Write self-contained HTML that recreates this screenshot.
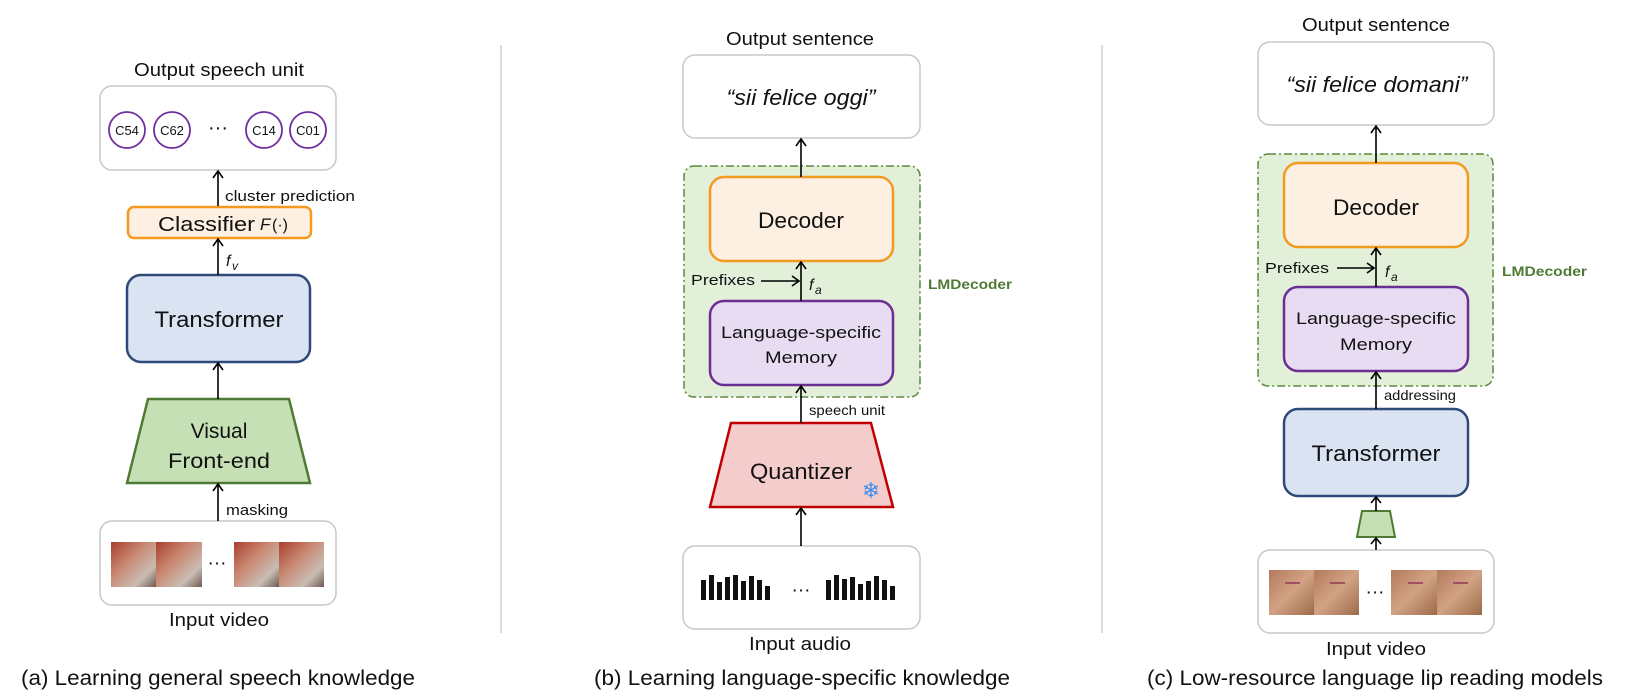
<!DOCTYPE html>
<html><head><meta charset="utf-8"><style>
html,body{margin:0;padding:0;background:#fff;}
svg{display:block;}
text{font-family:"Liberation Sans",sans-serif;fill:#111;}
</style></head><body>
<svg width="1631" height="698" viewBox="0 0 1631 698" xmlns="http://www.w3.org/2000/svg">
<defs>
<linearGradient id="fa" x1="0" y1="0" x2="1" y2="1">
<stop offset="0" stop-color="#a8402e"/><stop offset="0.4" stop-color="#c98872"/><stop offset="0.75" stop-color="#c9bdb3"/><stop offset="1" stop-color="#6e5a50"/></linearGradient>
<linearGradient id="fc" x1="0" y1="0" x2="1" y2="1">
<stop offset="0" stop-color="#b47a5c"/><stop offset="0.5" stop-color="#d2a285"/><stop offset="1" stop-color="#9a6a48"/></linearGradient>
</defs>
<g stroke="#d0d0d0" stroke-width="1.5"><line x1="501" y1="45" x2="501" y2="633"/><line x1="1102" y1="45" x2="1102" y2="633"/></g>

<!-- Panel a -->
<text x="219" y="76" font-size="18" text-anchor="middle" textLength="170" lengthAdjust="spacingAndGlyphs">Output speech unit</text>
<rect x="100" y="86" width="236" height="84" rx="12" fill="#fff" stroke="#c8c8c8" stroke-width="1.5"/>
<g fill="#fff" stroke="#7030a0" stroke-width="1.8">
<circle cx="127" cy="130" r="18"/><circle cx="172" cy="130" r="18"/><circle cx="264" cy="130" r="18"/><circle cx="308" cy="130" r="18"/></g>
<g font-size="13" text-anchor="middle"><text x="127" y="135">C54</text><text x="172" y="135">C62</text><text x="264" y="135">C14</text><text x="308" y="135">C01</text></g>
<text x="218" y="134" font-size="20" text-anchor="middle">···</text>
<rect x="128" y="207" width="183" height="31" rx="6" fill="#fdf0e3" stroke="#f39a21" stroke-width="2.5"/>
<text x="158" y="231" font-size="20" textLength="97" lengthAdjust="spacingAndGlyphs">Classifier</text>
<text x="260" y="230" font-size="17" font-family="Liberation Serif" font-style="italic">F</text><text x="272" y="230" font-size="16" font-family="Liberation Serif">(·)</text>
<text x="225" y="201" font-size="14.5" textLength="130" lengthAdjust="spacingAndGlyphs">cluster prediction</text>
<text x="226" y="266" font-size="16" font-family="Liberation Serif" font-style="italic">f</text><text x="232" y="270" font-size="12" font-family="Liberation Serif" font-style="italic">v</text>
<rect x="127" y="275" width="183" height="87" rx="14" fill="#dae3f2" stroke="#2f4a7a" stroke-width="2.5"/>
<text x="219" y="327" font-size="22" text-anchor="middle" textLength="129" lengthAdjust="spacingAndGlyphs">Transformer</text>
<polygon points="148,399 289,399 310,483 127,483" fill="#c5e0b4" stroke="#4f7a35" stroke-width="2.5"/>
<text x="219" y="438" font-size="21" text-anchor="middle">Visual</text>
<text x="219" y="468" font-size="21" text-anchor="middle" textLength="102" lengthAdjust="spacingAndGlyphs">Front-end</text>
<text x="226" y="515" font-size="14.5" textLength="62" lengthAdjust="spacingAndGlyphs">masking</text>
<rect x="100" y="521" width="236" height="84" rx="12" fill="#fff" stroke="#c8c8c8" stroke-width="1.5"/>
<rect x="111" y="542" width="45" height="45" fill="url(#fa)"/><rect x="156" y="542" width="46" height="45" fill="url(#fa)"/>
<rect x="234" y="542" width="45" height="45" fill="url(#fa)"/><rect x="279" y="542" width="45" height="45" fill="url(#fa)"/>
<text x="217" y="569" font-size="19" text-anchor="middle">···</text>
<text x="219" y="626" font-size="18" text-anchor="middle" textLength="100" lengthAdjust="spacingAndGlyphs">Input video</text>
<text x="21" y="685" font-size="21" textLength="394" lengthAdjust="spacingAndGlyphs">(a) Learning general speech knowledge</text>
<g stroke="#000" stroke-width="1.6" fill="none">
<line x1="218" y1="206" x2="218" y2="171"/><polyline points="213,178 218,171 223,178"/>
<line x1="218" y1="275" x2="218" y2="239"/><polyline points="213,246 218,239 223,246"/>
<line x1="218" y1="399" x2="218" y2="363"/><polyline points="213,370 218,363 223,370"/>
<line x1="218" y1="521" x2="218" y2="484"/><polyline points="213,491 218,484 223,491"/>
</g>

<!-- Panel b -->
<text x="800" y="45" font-size="18" text-anchor="middle" textLength="148" lengthAdjust="spacingAndGlyphs">Output sentence</text>
<rect x="683" y="55" width="237" height="83" rx="12" fill="#fff" stroke="#c8c8c8" stroke-width="1.5"/>
<text x="801" y="105" font-size="22" font-style="italic" text-anchor="middle" textLength="149" lengthAdjust="spacingAndGlyphs">“sii felice oggi”</text>
<rect x="684" y="166" width="236" height="231" rx="10" fill="#e2efd9" stroke="#5a8a3c" stroke-width="1.5" stroke-dasharray="8,3,2,3"/>
<rect x="710" y="177" width="183" height="84" rx="14" fill="#fdf0e3" stroke="#f39a21" stroke-width="2.5"/>
<text x="801" y="228" font-size="22" text-anchor="middle" textLength="86" lengthAdjust="spacingAndGlyphs">Decoder</text>
<text x="691" y="285" font-size="15" textLength="64" lengthAdjust="spacingAndGlyphs">Prefixes</text>
<text x="809" y="290" font-size="16" font-family="Liberation Serif" font-style="italic">f</text><text x="815" y="294" font-size="12" font-family="Liberation Serif" font-style="italic">a</text>
<rect x="710" y="301" width="183" height="84" rx="14" fill="#e8dcf3" stroke="#6b2f91" stroke-width="2.5"/>
<text x="801" y="338" font-size="17" text-anchor="middle" textLength="160" lengthAdjust="spacingAndGlyphs">Language-specific</text>
<text x="801" y="363" font-size="17" text-anchor="middle" textLength="72" lengthAdjust="spacingAndGlyphs">Memory</text>
<text x="928" y="289" font-size="14" font-weight="bold" style="fill:#4f7a35" textLength="84" lengthAdjust="spacingAndGlyphs">LMDecoder</text>
<text x="809" y="415" font-size="14" textLength="76" lengthAdjust="spacingAndGlyphs">speech unit</text>
<polygon points="731,423 871,423 893,507 710,507" fill="#f4cccc" stroke="#c00000" stroke-width="2.5"/>
<text x="801" y="479" font-size="22" text-anchor="middle" textLength="102" lengthAdjust="spacingAndGlyphs">Quantizer</text>
<text x="871" y="498" font-size="22" text-anchor="middle" style="fill:#3d8ef0" font-family="DejaVu Sans">❄</text>
<rect x="683" y="546" width="237" height="83" rx="12" fill="#fff" stroke="#c8c8c8" stroke-width="1.5"/>
<g fill="#111">
<rect x="701" y="580" width="5" height="20"/><rect x="709" y="575" width="5" height="25"/><rect x="717" y="582" width="5" height="18"/><rect x="725" y="577" width="5" height="23"/><rect x="733" y="575" width="5" height="25"/><rect x="741" y="581" width="5" height="19"/><rect x="749" y="576" width="5" height="24"/><rect x="757" y="580" width="5" height="20"/><rect x="765" y="586" width="5" height="14"/>
<rect x="826" y="580" width="5" height="20"/><rect x="834" y="575" width="5" height="25"/><rect x="842" y="579" width="5" height="21"/><rect x="850" y="577" width="5" height="23"/><rect x="858" y="584" width="5" height="16"/><rect x="866" y="581" width="5" height="19"/><rect x="874" y="576" width="5" height="24"/><rect x="882" y="580" width="5" height="20"/><rect x="890" y="586" width="5" height="14"/>
</g>
<text x="801" y="596" font-size="19" text-anchor="middle">···</text>
<text x="800" y="650" font-size="18" text-anchor="middle" textLength="102" lengthAdjust="spacingAndGlyphs">Input audio</text>
<text x="594" y="685" font-size="21" textLength="416" lengthAdjust="spacingAndGlyphs">(b) Learning language-specific knowledge</text>
<g stroke="#000" stroke-width="1.6" fill="none">
<line x1="801" y1="177" x2="801" y2="139"/><polyline points="796,146 801,139 806,146"/>
<line x1="801" y1="301" x2="801" y2="262"/><polyline points="796,269 801,262 806,269"/>
<line x1="761" y1="281" x2="799" y2="281"/><polyline points="792,276 799,281 792,286"/>
<line x1="801" y1="423" x2="801" y2="386"/><polyline points="796,393 801,386 806,393"/>
<line x1="801" y1="546" x2="801" y2="508"/><polyline points="796,515 801,508 806,515"/>
</g>

<!-- Panel c -->
<text x="1376" y="31" font-size="18" text-anchor="middle" textLength="148" lengthAdjust="spacingAndGlyphs">Output sentence</text>
<rect x="1258" y="42" width="236" height="83" rx="12" fill="#fff" stroke="#c8c8c8" stroke-width="1.5"/>
<text x="1377" y="92" font-size="22" font-style="italic" text-anchor="middle" textLength="181" lengthAdjust="spacingAndGlyphs">“sii felice domani”</text>
<rect x="1258" y="154" width="235" height="232" rx="10" fill="#e2efd9" stroke="#5a8a3c" stroke-width="1.5" stroke-dasharray="8,3,2,3"/>
<rect x="1284" y="163" width="184" height="84" rx="14" fill="#fdf0e3" stroke="#f39a21" stroke-width="2.5"/>
<text x="1376" y="215" font-size="22" text-anchor="middle" textLength="86" lengthAdjust="spacingAndGlyphs">Decoder</text>
<text x="1265" y="273" font-size="15" textLength="64" lengthAdjust="spacingAndGlyphs">Prefixes</text>
<text x="1385" y="277" font-size="16" font-family="Liberation Serif" font-style="italic">f</text><text x="1391" y="281" font-size="12" font-family="Liberation Serif" font-style="italic">a</text>
<rect x="1284" y="287" width="184" height="84" rx="14" fill="#e8dcf3" stroke="#6b2f91" stroke-width="2.5"/>
<text x="1376" y="324" font-size="17" text-anchor="middle" textLength="160" lengthAdjust="spacingAndGlyphs">Language-specific</text>
<text x="1376" y="350" font-size="17" text-anchor="middle" textLength="72" lengthAdjust="spacingAndGlyphs">Memory</text>
<text x="1502" y="276" font-size="14" font-weight="bold" style="fill:#4f7a35" textLength="85" lengthAdjust="spacingAndGlyphs">LMDecoder</text>
<text x="1384" y="400" font-size="14" textLength="72" lengthAdjust="spacingAndGlyphs">addressing</text>
<rect x="1284" y="409" width="184" height="87" rx="14" fill="#dae3f2" stroke="#2f4a7a" stroke-width="2.5"/>
<text x="1376" y="461" font-size="22" text-anchor="middle" textLength="129" lengthAdjust="spacingAndGlyphs">Transformer</text>
<polygon points="1362,511 1390,511 1395,537 1357,537" fill="#c5e0b4" stroke="#4f7a35" stroke-width="2"/>
<rect x="1258" y="550" width="236" height="83" rx="12" fill="#fff" stroke="#c8c8c8" stroke-width="1.5"/>
<rect x="1269" y="570" width="45" height="45" fill="url(#fc)"/><rect x="1314" y="570" width="45" height="45" fill="url(#fc)"/>
<rect x="1391" y="570" width="46" height="45" fill="url(#fc)"/><rect x="1437" y="570" width="45" height="45" fill="url(#fc)"/>
<g stroke="#a05060" stroke-width="2"><line x1="1285" y1="583" x2="1300" y2="583"/><line x1="1330" y1="583" x2="1345" y2="583"/><line x1="1408" y1="583" x2="1423" y2="583"/><line x1="1453" y1="583" x2="1468" y2="583"/></g>
<text x="1375" y="598" font-size="19" text-anchor="middle">···</text>
<text x="1376" y="655" font-size="18" text-anchor="middle" textLength="100" lengthAdjust="spacingAndGlyphs">Input video</text>
<text x="1147" y="685" font-size="21" textLength="456" lengthAdjust="spacingAndGlyphs">(c) Low-resource language lip reading models</text>
<g stroke="#000" stroke-width="1.6" fill="none">
<line x1="1376" y1="163" x2="1376" y2="126"/><polyline points="1371,133 1376,126 1381,133"/>
<line x1="1376" y1="287" x2="1376" y2="248"/><polyline points="1371,255 1376,248 1381,255"/>
<line x1="1337" y1="268" x2="1374" y2="268"/><polyline points="1367,263 1374,268 1367,273"/>
<line x1="1376" y1="409" x2="1376" y2="372"/><polyline points="1371,379 1376,372 1381,379"/>
<line x1="1376" y1="511" x2="1376" y2="497"/><polyline points="1371,503 1376,497 1381,503"/>
<line x1="1376" y1="550" x2="1376" y2="538"/><polyline points="1371,544 1376,538 1381,544"/>
</g>
</svg>
</body></html>
